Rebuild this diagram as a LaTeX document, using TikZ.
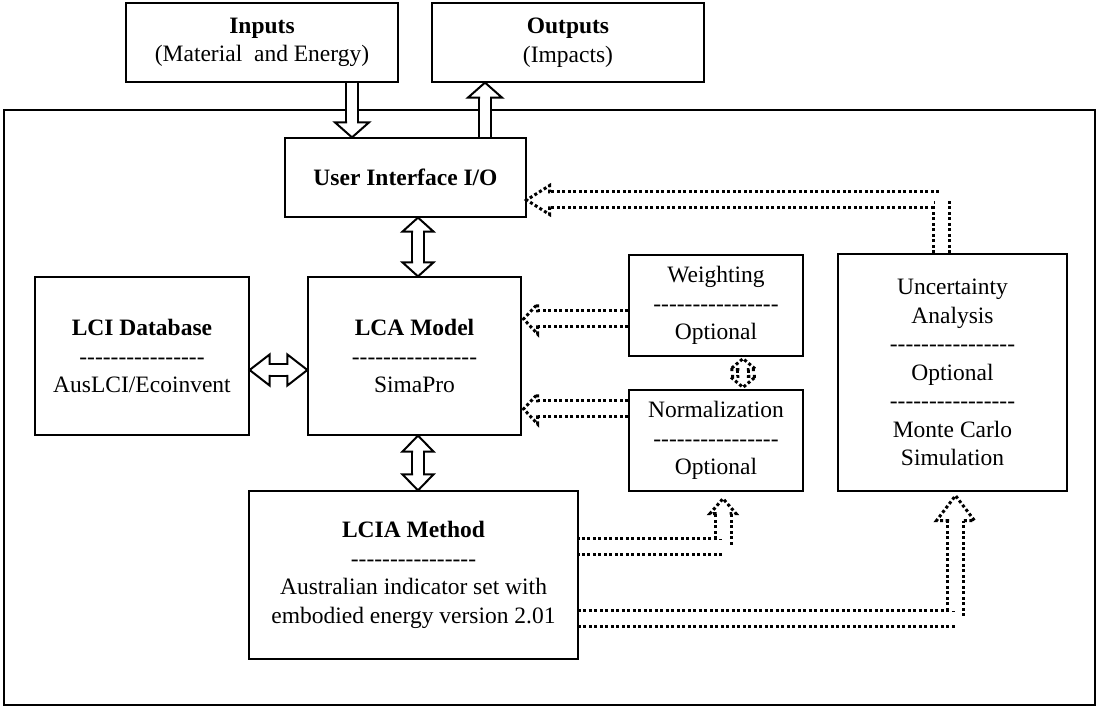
\documentclass[tikz,border=0pt]{standalone}
\usepackage{fontspec}
\setmainfont{Liberation Serif}
\tikzstyle{box} = [draw, line width=1.2pt, align=center, inner sep=0pt]
\tikzstyle{solidline} = [line width=2pt]
\tikzstyle{solidshaft} = [draw, solidline, double, double distance=10pt]
\tikzstyle{dotline} = [line width=3pt, dash pattern=on 3pt off 2.5pt]
\tikzstyle{dotshaft} = [draw, dotline, double, double distance=13pt]
\tikzset{pics/blockhead/.style n args={3}{code={\draw (-#1,#3+1) -- (-#1,#3) -- (-#2,#3) -- (0,0) -- (#2,#3) -- (#1,#3) -- (#1,#3+1);}}}
\newcommand\dashrow{\foreach \k in {1,...,16}{\mbox{-}}}

\begin{document}
\begin{tikzpicture}[x=1pt, y=-1pt, every node/.style={font=\fontsize{23.5}{28.5}\selectfont}]
		\useasboundingbox (0,0) rectangle (1098,708);
		\node[draw, line width=2.5pt, minimum width=1091pt, minimum height=595pt, inner sep=0pt] (frame) at (549.5,407.5) {};
		\node[box, minimum width=272pt, minimum height=79pt] (inp) at (262,42.5) {\textbf{Inputs}\\(Material~ and Energy)};
		\node[box, minimum width=272pt, minimum height=79pt] (outp) at (568,42.5) {\textbf{Outputs}\\(Impacts)};
		\node[box, minimum width=241pt, minimum height=79pt] (ui) at (405.5,177.5) {\textbf{User Interface I/O}};
		\node[box, minimum width=214pt, minimum height=158pt] (lci) at (142,356) {\textbf{LCI Database}\\\dashrow\\AusLCI/Ecoinvent};
		\node[box, minimum width=213pt, minimum height=158pt] (lca) at (414.5,356) {\textbf{LCA Model}\\\dashrow\\SimaPro};
		\node[box, minimum width=329pt, minimum height=168pt] (lcia) at (413.5,575) {\textbf{LCIA Method}\\\dashrow\\Australian indicator set with\\embodied energy version 2.01};
		\node[box, minimum width=174pt, minimum height=101pt] (wt) at (716,305.5) {Weighting\\\dashrow\\Optional};
		\node[box, minimum width=174pt, minimum height=101pt] (nm) at (716,440.5) {Normalization\\\dashrow\\Optional};
		\node[box, minimum width=229pt, minimum height=237pt] (ua) at (952.5,372.5) {Uncertainty\\Analysis\\\dashrow\\Optional\\\dashrow\\Monte Carlo\\Simulation};
		\draw[solidshaft] ([xshift=90]inp.south) -- ([xshift=-53.5,yshift=15]ui.north);
		\pic[solidline, rotate=180] at ([xshift=-53.5]ui.north) {blockhead={6}{17}{15}};
		\draw[solidshaft] ([xshift=79.5]ui.north) -- ([xshift=-83,yshift=-15]outp.south);
		\pic[solidline] at ([xshift=-83]outp.south) {blockhead={6}{17}{15}};
		\draw[solidshaft] ([xshift=12.5,yshift=-14]ui.south) -- ([xshift=3.5,yshift=14]lca.north);
		\pic[solidline] at ([xshift=12.5]ui.south) {blockhead={6}{15.5}{14}};
		\pic[solidline, rotate=180] at ([xshift=3.5]lca.north) {blockhead={6}{15.5}{14}};
		\draw[solidshaft] ([xshift=20,yshift=-14]lci.east) -- ([xshift=-20,yshift=-14]lca.west);
		\pic[solidline, rotate=90] at ([yshift=-14]lci.east) {blockhead={6}{15.5}{20}};
		\pic[solidline, rotate=-90] at ([yshift=-14]lca.west) {blockhead={6}{15.5}{20}};
		\draw[solidshaft] ([xshift=3.5,yshift=-16]lca.south) -- ([xshift=4.5,yshift=16]lcia.north);
		\pic[solidline] at ([xshift=3.5]lca.south) {blockhead={6}{15.5}{16}};
		\pic[solidline, rotate=180] at ([xshift=4.5]lcia.north) {blockhead={6}{15.5}{16}};
		\draw[dotshaft] ([yshift=-13.5]wt.west) -- ([xshift=16,yshift=37]lca.east);
		\pic[dotline, rotate=90] at ([xshift=2,yshift=37]lca.east) {blockhead={8}{15}{14}};
		\draw[dotshaft] ([yshift=31.5]nm.west) -- ([xshift=16,yshift=-53]lca.east);
		\pic[dotline, rotate=90] at ([xshift=2,yshift=-53]lca.east) {blockhead={8}{15}{14}};
		\draw[dotshaft, double distance=7.5pt] ([xshift=27,yshift=-13]wt.south) -- ([xshift=27,yshift=13]nm.north);
		\pic[dotline] at ([xshift=27,yshift=-2]wt.south) {blockhead={5.25}{13}{11}};
		\pic[dotline, rotate=180] at ([xshift=27,yshift=2]nm.north) {blockhead={5.25}{13}{11}};
		\draw[dotshaft, dash phase=2.25pt] ([yshift=28.5]lcia.east) -| ([xshift=7,yshift=-22]nm.south);
		\pic[dotline] at ([xshift=7,yshift=-7]nm.south) {blockhead={8}{13}{15}};
		\draw[dotshaft, dash phase=0.75pt] ([yshift=-43]lcia.east) -| ([xshift=3,yshift=-29]ua.south);
		\pic[dotline] at ([xshift=3,yshift=-4]ua.south) {blockhead={8}{19}{25}};
		\draw[dotshaft, dash phase=5.25pt] ([xshift=-11.5]ua.north) |- ([xshift=23,yshift=-22.5]ui.east);
		\pic[dotline, rotate=90] at ([yshift=-22.5]ui.east) {blockhead={8}{14.5}{23}};
\end{tikzpicture}
\end{document}
